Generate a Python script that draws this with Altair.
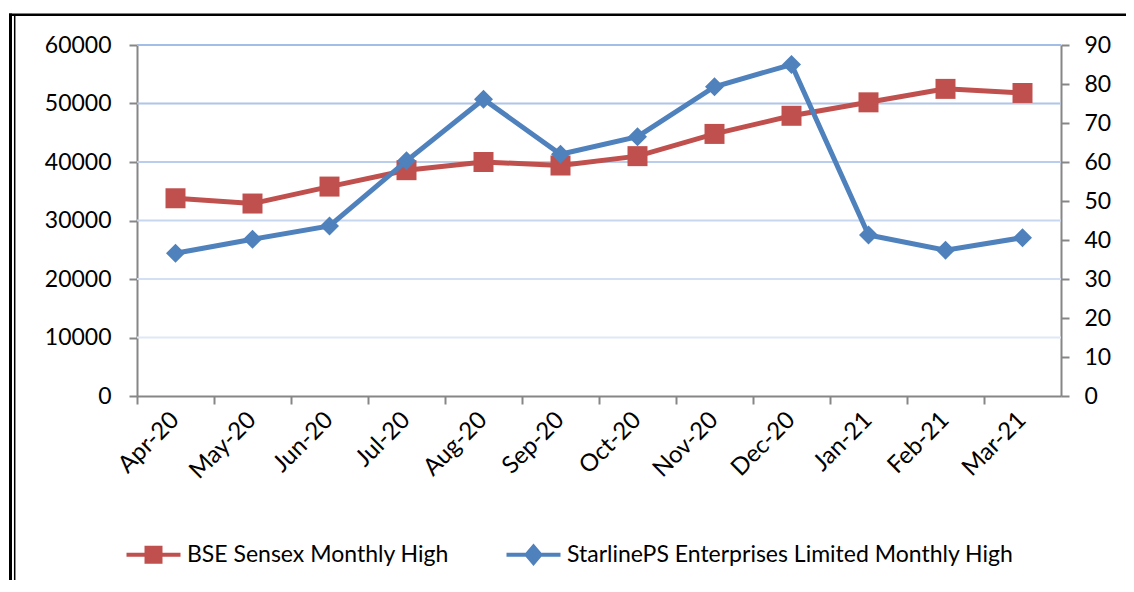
import altair as alt
import pandas as pd

# ---- data ----
months = ["Apr-20", "May-20", "Jun-20", "Jul-20", "Aug-20", "Sep-20",
          "Oct-20", "Nov-20", "Dec-20", "Jan-21", "Feb-21", "Mar-21"]
sensex_high = [33800, 32900, 35800, 38600, 40000, 39400,
               41000, 44800, 47900, 50200, 52500, 51800]
starline_high = [36.6, 40.2, 43.6, 60.3, 76.1, 62.0,
                 66.5, 79.3, 85.0, 41.3, 37.4, 40.6]
series_names = ["BSE Sensex Monthly High",
                "StarlinePS Enterprises Limited Monthly High"]
left_ticks = [0, 10000, 20000, 30000, 40000, 50000, 60000]
right_ticks = [0, 10, 20, 30, 40, 50, 60, 70, 80, 90]
grid_values = [10000, 20000, 30000, 40000, 50000, 60000]

RED = "#C0504D"
BLUE = "#4F81BD"
AXIS_GRAY = "#868686"
FONT = "Lato"

red_df = pd.DataFrame({"month": months, "value": sensex_high, "series": series_names[0]})
blue_df = pd.DataFrame({"month": months, "value": starline_high, "series": series_names[1]})
grid_df = pd.DataFrame({"g": grid_values})
legend_df = pd.DataFrame({"series": series_names})
one_row = pd.DataFrame({"k": [0]})

xscale = alt.Scale(type="band", domain=months, paddingInner=0, paddingOuter=0)

x_ticks_axis = alt.Axis(orient="bottom", bandPosition=0, labels=False, ticks=True,
                        tickSize=8, tickColor=AXIS_GRAY, tickWidth=2,
                        domain=True, domainColor=AXIS_GRAY, domainWidth=2,
                        grid=False, title=None)
x_label_axis = alt.Axis(orient="bottom", labels=True, ticks=False, domain=False,
                        grid=False, title=None, labelAngle=-45, labelAlign="right",
                        labelBaseline="middle",
                        labelFont=FONT, labelFontSize=24, labelColor="black",
                        labelPadding=20)

y_left_axis = alt.Axis(orient="left", values=left_ticks, format="d", grid=False,
                       tickSize=8, tickColor=AXIS_GRAY, tickWidth=2,
                       domainColor=AXIS_GRAY, domainWidth=2, title=None,
                       labelFont=FONT, labelFontSize=23, labelColor="black",
                       labelPadding=18)
y_right_axis = alt.Axis(orient="right", values=right_ticks, format="d", grid=False,
                        tickSize=8, tickColor=AXIS_GRAY, tickWidth=2,
                        domainColor=AXIS_GRAY, domainWidth=2, title=None,
                        labelFont=FONT, labelFontSize=23, labelColor="black",
                        labelPadding=15)

# ---- left (Sensex) layer ----
grid = alt.Chart(grid_df).mark_rule(strokeWidth=2).encode(
    y=alt.Y("g:Q", scale=alt.Scale(domain=[0, 60000], nice=False), axis=y_left_axis),
    stroke=alt.Stroke("g:Q", scale=alt.Scale(domain=[10000, 60000],
                                              range=["#DFE8F5", "#A2BDE6"]),
                      legend=None),
)
red_base = alt.Chart(red_df).encode(
    x=alt.X("month:N", sort=months, scale=xscale, axis=x_ticks_axis),
    y=alt.Y("value:Q", scale=alt.Scale(domain=[0, 60000], nice=False), axis=y_left_axis),
)
red_line = red_base.mark_line(color=RED, strokeWidth=5)
red_pts = red_base.mark_point(shape="square", filled=True, size=400, color=RED, opacity=1)
left = alt.layer(grid, red_line, red_pts)

# ---- right (Starline) layer ----
blue_base = alt.Chart(blue_df).encode(
    x=alt.X("month:N", sort=months, scale=xscale, axis=x_label_axis),
    y=alt.Y("value:Q", scale=alt.Scale(domain=[0, 90], nice=False), axis=y_right_axis),
)
blue_line = blue_base.mark_line(color=BLUE, strokeWidth=5)
blue_pts = blue_base.mark_point(shape="diamond", filled=True, size=361, color=BLUE, opacity=1)

sq_path = "M-3,-0.22H-1V-1H1V-0.22H3V0.22H1V1H-1V0.22H-3Z"
dia_path = "M-3,-0.22H-0.87L0,-1.25L0.87,-0.22H3V0.22H0.87L0,1.25L-0.87,0.22H-3Z"
leg = alt.Legend(orient="none", legendX=5, legendY=498, direction="horizontal",
                 columns=2, title=None, labelFont=FONT, labelFontSize=23,
                 labelColor="black", symbolSize=324, symbolStrokeWidth=0,
                 symbolOpacity=1, labelOffset=22, columnPadding=57,
                 labelLimit=800, padding=0)
legend_layer = alt.Chart(legend_df).mark_point(filled=True).encode(
    fill=alt.Fill("series:N", scale=alt.Scale(domain=series_names, range=[RED, BLUE]),
                  legend=leg),
    shape=alt.Shape("series:N", scale=alt.Scale(domain=series_names,
                                                range=[sq_path, dia_path]),
                    legend=leg),
).transform_filter("false")
right = alt.layer(blue_line, blue_pts, legend_layer)

# ---- outer frame of the picture ----
frame_top = alt.Chart(one_row).mark_rule(color="black", strokeWidth=2.5).encode(
    x=alt.value(-128), x2=alt.value(1000), y=alt.value(-30.3))
frame_left = alt.Chart(one_row).mark_rule(color="black", strokeWidth=3).encode(
    x=alt.value(-126.5), y=alt.value(-31.5), y2=alt.value(560))
frame_left2 = alt.Chart(one_row).mark_rule(color="black", strokeWidth=1.5).encode(
    x=alt.value(-122.3), y=alt.value(-29), y2=alt.value(560))

chart = alt.layer(left, right, frame_top, frame_left, frame_left2).resolve_scale(
    y="independent", x="independent"
).properties(
    width=924, height=351,
    padding={"left": 129, "top": 37, "right": 65, "bottom": 184},
    autosize=alt.AutoSizeParams(type="none"),
    background="white",
).configure_view(stroke=None)

chart.save("out.html", embed_options={"renderer": "svg", "actions": False})
